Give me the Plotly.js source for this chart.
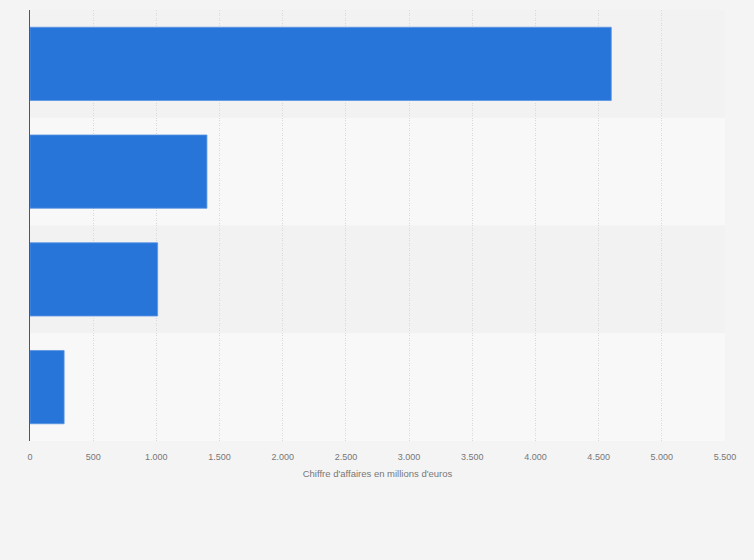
<!DOCTYPE html>
<html><head><meta charset="utf-8">
<script src="https://cdn.plot.ly/plotly-3.0.1.min.js"></script>
<style>body{margin:0;background:#f4f4f4}#c{width:754px;height:560px}</style>
</head><body><div id="c"></div>
<script>
const categories = ["Catégorie 1", "Catégorie 2", "Catégorie 3", "Catégorie 4"];
const values = [4600, 1400, 1010, 270];
const tickValues = [0, 500, 1000, 1500, 2000, 2500, 3000, 3500, 4000, 4500, 5000, 5500];
const xTitle = "Chiffre d'affaires en millions d'euros";

const bandColors = ["#f2f2f2", "#f8f8f8"];
const shapes = categories.map((c, i) => ({
  type: 'rect', xref: 'paper', yref: 'y', layer: 'below',
  x0: 0, x1: 1, y0: i - 0.5, y1: i + 0.5,
  fillcolor: bandColors[i % 2], line: {width: 0}
}));

Plotly.newPlot('c', [{
  type: 'bar', orientation: 'h',
  y: categories, x: values,
  marker: {color: '#2775d9', line: {color: '#5a95e3', width: 0.8}},
  width: 0.68, hoverinfo: 'none'
}], {
  width: 754, height: 560,
  paper_bgcolor: '#f4f4f4', plot_bgcolor: 'rgba(0,0,0,0)',
  margin: {l: 30, r: 29, t: 10, b: 119},
  separators: ',.',
  font: {family: 'Liberation Sans, Arial, sans-serif', color: '#777'},
  shapes: shapes,
  showlegend: false,
  xaxis: {
    range: [0, 5500], tickvals: tickValues, tickformat: ',d',
    showgrid: true, gridcolor: '#d9d9d9', griddash: '1px,1.5px', gridwidth: 1,
    zeroline: false, showline: false,
    ticks: 'outside', ticklen: 7, tickcolor: 'rgba(0,0,0,0)',
    tickfont: {size: 9, color: '#777'},
    title: {text: xTitle, font: {size: 9.5, color: '#777'}, standoff: 9}
  },
  yaxis: {
    autorange: 'reversed', showticklabels: false, showgrid: false,
    showline: true, linecolor: '#555', linewidth: 1.5, ticks: '', zeroline: false
  }
}, {displayModeBar: false, staticPlot: true});
</script></body></html>
